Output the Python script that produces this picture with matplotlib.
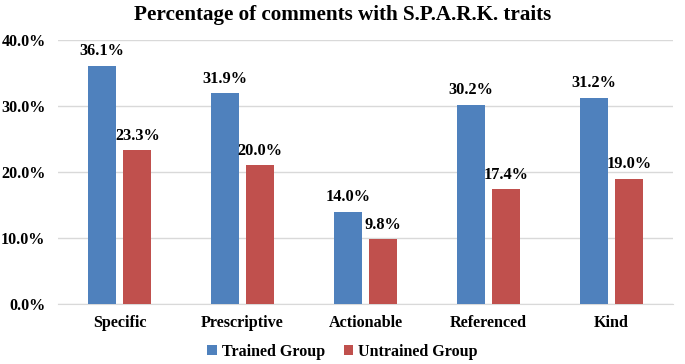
import numpy as np
import matplotlib.pyplot as plt

# data
categories = ['Specific', 'Prescriptive', 'Actionable', 'Referenced', 'Kind']
trained = [36.1, 31.9, 14.0, 30.2, 31.2]
untrained = [23.3, 21.0, 9.8, 17.4, 19.0]
trained_labels = ['36.1%', '31.9%', '14.0%', '30.2%', '31.2%']
untrained_labels = ['23.3%', '20.0%', '9.8%', '17.4%', '19.0%']

plt.rcParams['font.family'] = ['Liberation Serif', 'DejaVu Serif']
plt.rcParams['font.weight'] = 'bold'

fig = plt.figure(figsize=(6.85, 3.64), dpi=100)
ax = fig.add_axes([58/685, 1 - 304/364, 615/685, 264/364])

x = np.arange(len(categories))
w = 0.23
off = 0.145
b1 = ax.bar(x - off, trained, w, color='#4F81BD', label='Trained Group', zorder=3)
b2 = ax.bar(x + off, untrained, w, color='#C0504D', label='Untrained Group', zorder=3)

# value labels above bars
for bar, lab in zip(b1, trained_labels):
    ax.text(bar.get_x() + bar.get_width()/2, bar.get_height() + 1.0, lab,
            ha='center', va='bottom', fontsize=11.8, fontweight='bold')
for bar, lab in zip(b2, untrained_labels):
    ax.text(bar.get_x() + bar.get_width()/2, bar.get_height() + 1.0, lab,
            ha='center', va='bottom', fontsize=11.8, fontweight='bold')

ax.set_xlim(-0.5, len(categories) - 0.5)
ax.set_ylim(0, 40)
ax.set_yticks([0, 10, 20, 30, 40])
ax.set_yticklabels(['%.1f%%' % v for v in [0, 10, 20, 30, 40]])
ax.set_xticks(x)
ax.set_xticklabels(categories)
ax.tick_params(axis='y', length=0, labelsize=11.6, pad=9)
ax.tick_params(axis='x', length=0, labelsize=11.6, pad=8)
for lab in ax.get_xticklabels() + ax.get_yticklabels():
    lab.set_fontweight('bold')
ax.yaxis.grid(True, color='#D9D9D9', linewidth=1, zorder=0)
for s in ['top', 'right', 'left']:
    ax.spines[s].set_visible(False)
ax.spines['bottom'].set_color('#D9D9D9')

fig.text(0.5, 1 - 15/364, 'Percentage of comments with S.P.A.R.K. traits',
         ha='center', va='center', fontsize=15.2, fontweight='bold')

fig.legend(handles=[b1, b2], loc='center', bbox_to_anchor=(0.5, 1 - 352/364),
           ncol=2, frameon=False, handlelength=0.6, handleheight=0.6,
           handletextpad=0.3, columnspacing=1.2, prop={'weight': 'bold', 'size': 11.5})

fig.savefig('out.png', dpi=100)
